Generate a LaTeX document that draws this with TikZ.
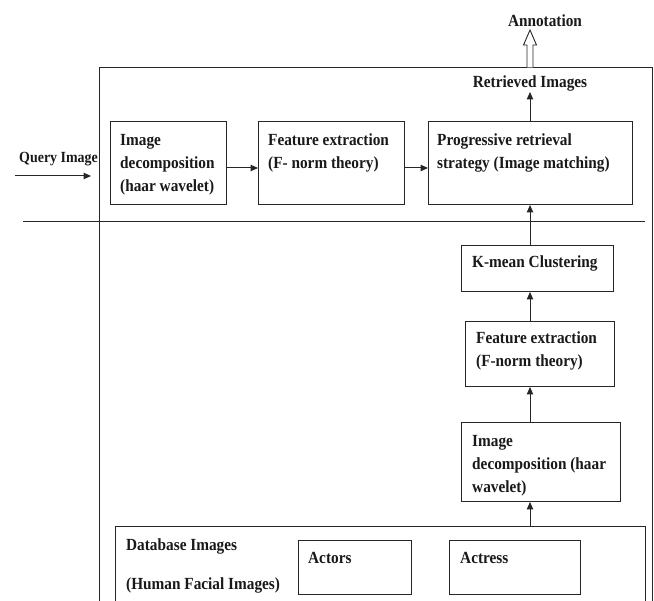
\documentclass[tikz,border=0pt]{standalone}
\usepackage{fontspec}
\setmainfont{Liberation Serif}[FakeStretch=0.9]
\usetikzlibrary{arrows.meta,calc}
\begin{document}
\begin{tikzpicture}[x=1pt,y=-1pt,
  box/.style={draw=black!85, line width=1pt, inner sep=0pt, outer sep=0pt},
  txt/.style={font=\fontsize{17}{23}\selectfont\bfseries, inner sep=0pt, anchor=base west, text=black!90},
  ctxt/.style={txt, anchor=base},
  arr/.style={draw=black!85, line width=1pt, -{Triangle[length=7.5pt,width=6.5pt]}},
  ln/.style={draw=black!85, line width=1pt}]
\useasboundingbox (0,0) rectangle (654,601);
% outer frame
\node[box, minimum width=553pt, minimum height=552pt] (outer) at (375.5,344) {};
% upper row
\node[box, minimum width=116pt, minimum height=83pt] (b1) at (168,163.5) {};
\node[box, minimum width=146pt, minimum height=83pt] (b2) at (331,163.5) {};
\node[box, minimum width=204pt, minimum height=83pt] (b3) at (530,163.5) {};
\node[txt] (t1a) at (120,146) {Image};
\node[txt] (t1b) at (120,169) {decomposition};
\node[txt] (t1c) at (120,192) {(haar wavelet)};
\node[txt] (t2a) at (268,146) {Feature extraction};
\node[txt] (t2b) at (268,169) {(F- norm theory)};
\node[txt] (t3a) at (437,146) {Progressive retrieval};
\node[txt] (t3b) at (437,169) {strategy (Image matching)};
% labels on top
\node[ctxt] (ret) at (530,88) {Retrieved Images};
\node[ctxt] (ann) at (545,27) {Annotation};
\node[txt, font=\fontsize{15.5}{20}\selectfont\bfseries] (qi) at (19,163) {Query Image};
% right column
\node[box, minimum width=152pt, minimum height=46pt] (km) at (537,269) {};
\node[txt] (tkm) at (472,268) {K-mean Clustering};
\node[box, minimum width=149pt, minimum height=65pt] (fe2) at (539.5,354.5) {};
\node[txt] (tf2a) at (476,344) {Feature extraction};
\node[txt] (tf2b) at (476,367) {(F-norm theory)};
\node[box, minimum width=159pt, minimum height=79pt] (id2) at (540.5,462.5) {};
\node[txt] (ti2a) at (472,447) {Image};
\node[txt] (ti2b) at (472,470) {decomposition (haar};
\node[txt] (ti2c) at (472,493) {wavelet)};
% database
\node[box, minimum width=530pt, minimum height=88pt] (db) at (380,571) {};
\node[txt] (tdba) at (126,551) {Database Images};
\node[txt] (tdbb) at (126,590) {(Human Facial Images)};
\node[box, minimum width=113pt, minimum height=54pt] (act) at (354.5,568) {};
\node[txt] (tact) at (308,564) {Actors};
\node[box, minimum width=131pt, minimum height=54pt] (acs) at (514.5,568) {};
\node[txt] (tacs) at (460,564) {Actress};
% helper coordinates
\coordinate (hl0) at (23,222);
\coordinate (hl1) at (645,222);
\coordinate (q0) at (15,176);
\coordinate (q1) at (91,176);
\coordinate (ya) at (0,168);
\coordinate (xc) at (530,0);
\coordinate (rt) at (530,92);
% separator line
\draw[ln] (hl0) -- (hl1);
% connectors
\draw[arr] (q0) -- (q1);
\draw[arr] (b1.east |- ya) -- (b2.west |- ya);
\draw[arr] (b2.east |- ya) -- (b3.west |- ya);
\draw[arr] (b3.north) -- (rt);
\draw[arr] (xc |- km.north) -- (b3.south);
\draw[arr] (xc |- fe2.north) -- (xc |- km.south);
\draw[arr] (xc |- id2.north) -- (xc |- fe2.south);
\draw[arr] (xc |- db.north) -- (xc |- id2.south);
% hollow arrow to Annotation
\draw[draw=black!85, line width=0.9pt, fill=white, line join=miter]
  (527,67.5) -- (527,45) -- (523.5,45) -- (530,30) -- (536.5,45) -- (533,45) -- (533,67.5);
\end{tikzpicture}
\end{document}
